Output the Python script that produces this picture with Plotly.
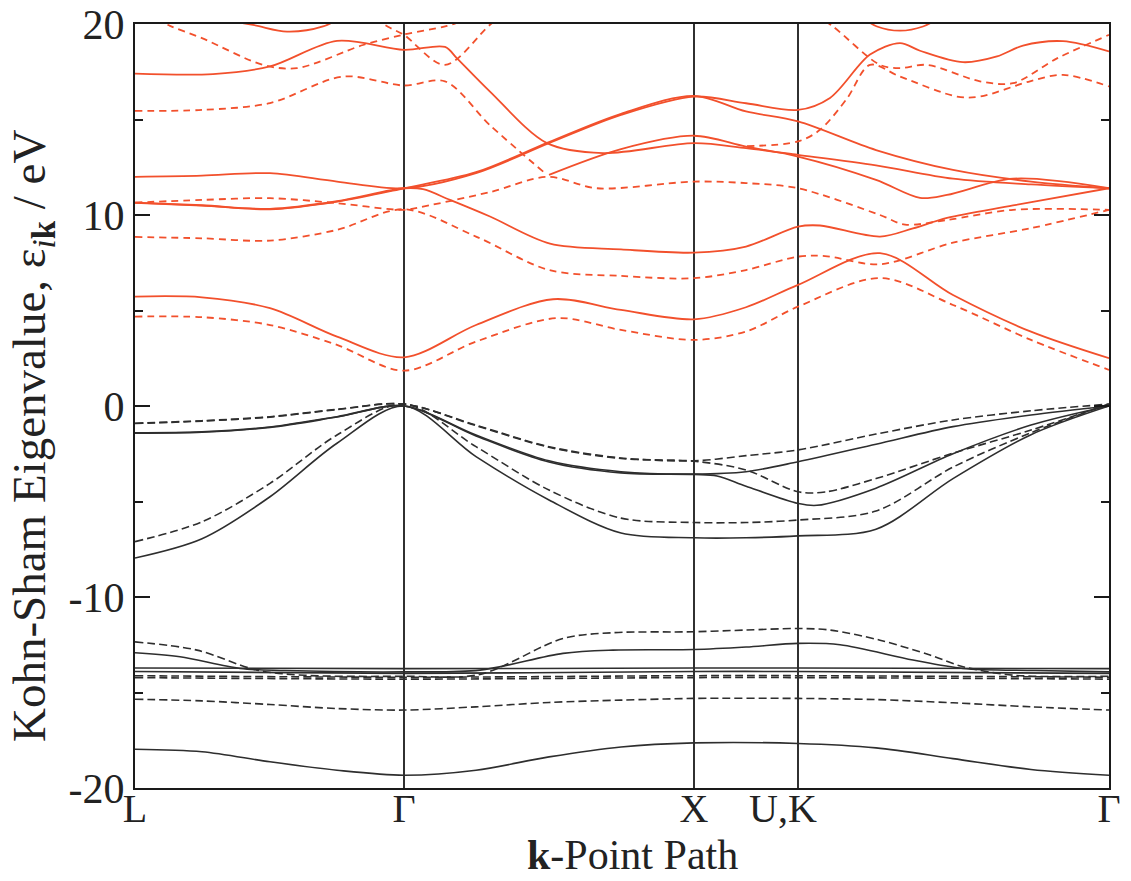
import plotly.graph_objects as go

# High-symmetry points along the path (cumulative path length, arbitrary units)
kpoint_pos = [0, 269, 559, 663, 974]
kpoint_labels = ["L", "Γ", "X", "U,K\u00a0\u00a0\u00a0", "Γ"]

# Energy axis ticks (eV)
e_ticks = [-20, -10, 0, 10, 20]
e_ticklabels = ["-20", "-10", "0", "10", "20"]

# ---- Valence bands, calculation A (solid) : (k, E[eV]) knots ----
va_1 = [(0, -1.4), (67, -1.35), (135, -1.1), (202, -0.56), (269, 0.0), (341, -1.52), (414, -2.87),
        (486, -3.44), (559, -3.56), (611, -3.44), (663, -2.92), (741, -2.0), (818, -1.08), (896, -0.47), (974, 0.0)]
va_2 = [(0, -1.42), (67, -1.37), (135, -1.12), (202, -0.58), (269, 0.0), (341, -1.57), (414, -2.93),
        (486, -3.5), (559, -3.58), (582, -3.66), (611, -4.2), (663, -5.1), (682, -5.2), (741, -4.3),
        (818, -2.5), (896, -1.0), (974, 0.0)]
va_3 = [(0, -7.96), (67, -6.95), (135, -4.75), (202, -1.95), (269, 0.0), (341, -2.65), (414, -4.92),
        (486, -6.65), (559, -6.9), (611, -6.9), (663, -6.8), (741, -6.45), (818, -3.8), (896, -1.5), (974, 0.0)]
va_semi = [(0, -12.92), (45, -13.13), (105, -13.74), (150, -13.85), (269, -13.92), (345, -13.83),
           (428, -12.95), (478, -12.78), (559, -12.75), (611, -12.62), (663, -12.43), (705, -12.5),
           (778, -13.3), (828, -13.74), (900, -13.85), (974, -13.92)]
va_flat_1 = [(0, -13.72), (269, -13.75), (559, -13.72), (663, -13.72), (974, -13.75)]
va_flat_2 = [(0, -13.9), (269, -14.0), (559, -13.9), (663, -13.9), (974, -14.0)]
va_low = [(0, -17.97), (67, -18.1), (135, -18.63), (202, -19.07), (269, -19.33), (341, -19.07),
          (414, -18.37), (486, -17.85), (559, -17.64), (663, -17.67), (741, -17.9), (818, -18.46),
          (896, -19.03), (974, -19.33)]

# ---- Valence bands, calculation B (dashed) ----
vb_1 = [(0, -0.9), (67, -0.77), (135, -0.56), (202, -0.17), (269, 0.1), (341, -1.0), (414, -2.13),
        (486, -2.72), (559, -2.87), (611, -2.6), (663, -2.3), (741, -1.47), (818, -0.73), (896, -0.25), (974, 0.1)]
vb_2 = [(0, -0.92), (67, -0.79), (135, -0.58), (202, -0.19), (269, 0.1), (341, -1.03), (414, -2.16),
        (486, -2.75), (559, -2.89), (611, -3.35), (663, -4.49), (690, -4.5), (741, -3.8), (818, -2.47),
        (896, -1.26), (974, 0.1)]
vb_3 = [(0, -7.1), (67, -6.06), (135, -4.05), (202, -1.52), (269, 0.1), (341, -2.13), (414, -4.4),
        (486, -5.87), (559, -6.1), (611, -6.1), (663, -5.97), (741, -5.5), (818, -3.2), (896, -1.4), (974, 0.1)]
vb_semi = [(0, -12.35), (62, -12.78), (122, -13.83), (170, -14.1), (269, -14.15), (345, -14.05),
           (428, -12.17), (478, -11.87), (559, -11.82), (611, -11.73), (663, -11.65), (695, -11.73),
           (745, -12.26), (795, -13.04), (828, -13.65), (880, -14.1), (974, -14.15)]
vb_flat_1 = [(0, -14.12), (269, -14.2), (559, -14.12), (663, -14.12), (974, -14.2)]
vb_flat_2 = [(0, -14.22), (269, -14.3), (559, -14.22), (663, -14.22), (974, -14.3)]
vb_low = [(0, -15.35), (67, -15.44), (135, -15.63), (202, -15.84), (269, -15.92), (341, -15.75),
          (414, -15.52), (486, -15.4), (559, -15.31), (663, -15.31), (741, -15.37), (818, -15.54),
          (896, -15.75), (974, -15.92)]

# ---- Conduction bands, calculation A (solid) ----
ca_1 = [(0, 5.73), (67, 5.69), (135, 5.12), (202, 3.63), (269, 2.55), (341, 4.24), (418, 5.59),
        (486, 5.03), (559, 4.54), (611, 5.17), (663, 6.34), (745, 8.0), (818, 5.81), (896, 3.89), (974, 2.5)]
ca_2 = [(0, 12.0), (67, 12.06), (135, 12.19), (202, 11.75), (269, 11.4), (341, 12.19), (414, 13.76),
        (486, 15.24), (559, 16.2), (611, 15.85), (663, 15.5), (695, 16.13), (735, 18.4), (765, 19.0),
        (785, 18.6), (828, 18.0), (862, 18.3), (888, 18.87), (928, 19.1), (974, 18.56)]
ca_3 = [(0, 10.63), (67, 10.49), (135, 10.3), (202, 10.7), (269, 11.4), (341, 12.24), (414, 13.82),
        (486, 15.3), (559, 16.24), (611, 15.42), (663, 14.9), (741, 13.4), (818, 12.36), (896, 11.75), (974, 11.4)]
ca_4 = [(0, 10.65), (67, 10.51), (135, 10.32), (202, 10.72), (269, 11.4), (288, 11.35), (315, 10.79),
        (355, 9.92), (415, 8.5), (486, 8.2), (559, 8.03), (611, 8.35), (663, 9.39), (685, 9.45),
        (745, 8.87), (778, 9.3), (812, 9.85), (878, 10.5), (974, 11.4)]
ca_5 = [(0, 17.4), (78, 17.38), (135, 17.78), (202, 19.12), (269, 18.65), (310, 18.8), (322, 18.2),
        (355, 16.46), (412, 13.76), (468, 13.24), (559, 13.76), (611, 13.5), (663, 13.15), (741, 12.6),
        (818, 11.9), (896, 11.6), (974, 11.4)]
ca_6 = [(414, 12.1), (486, 13.45), (559, 14.15), (611, 13.58), (663, 13.06), (741, 11.84), (785, 10.9),
        (812, 11.05), (878, 11.9), (974, 11.4)]
ca_7 = [(0, 21.0), (67, 20.4), (118, 19.95), (152, 19.6), (188, 19.87), (215, 20.6)]
ca_8 = [(720, 20.6), (742, 19.87), (765, 19.65), (788, 19.87), (810, 20.5)]

# ---- Conduction bands, calculation B (dashed) ----
cb_1 = [(0, 4.68), (67, 4.65), (135, 4.24), (202, 3.2), (269, 1.85), (341, 3.37), (422, 4.6),
        (486, 3.98), (559, 3.46), (611, 3.9), (663, 5.2), (745, 6.7), (818, 5.29), (896, 3.46), (974, 1.89)]
cb_2 = [(0, 10.65), (67, 10.79), (135, 10.88), (202, 10.62), (269, 10.27), (288, 10.44), (355, 11.2),
        (413, 12.0), (462, 11.4), (559, 11.75), (611, 11.67), (663, 11.4), (745, 10.0), (770, 9.5),
        (812, 9.74), (878, 10.27), (974, 10.27)]
cb_3 = [(0, 8.85), (67, 8.78), (135, 8.66), (202, 9.22), (269, 10.3), (341, 8.87), (414, 7.12),
        (486, 6.81), (559, 6.69), (611, 7.12), (663, 7.82), (690, 7.85), (745, 7.42), (818, 8.55),
        (896, 9.31), (974, 10.27)]
cb_4a = [(0, 15.45), (67, 15.5), (135, 15.86), (208, 17.25), (269, 16.78), (310, 17.0), (355, 14.7),
         (412, 12.1)]
cb_4b = [(612, 13.6), (663, 13.85), (685, 14.46), (712, 16.1), (735, 17.86), (765, 17.25), (822, 16.2),
         (845, 16.2), (895, 17.0), (928, 17.34), (974, 16.73)]
cb_5 = [(0, 20.8), (35, 19.9), (67, 19.26), (128, 17.86), (162, 17.69), (228, 18.9), (269, 19.45),
        (312, 19.9), (340, 20.4)]
cb_6 = [(230, 20.6), (255, 19.8), (269, 19.43), (310, 17.86), (355, 19.96), (380, 21.0)]
cb_7 = [(680, 20.5), (698, 19.87), (745, 17.86), (765, 17.69), (792, 17.86), (845, 17.0), (878, 16.9),
        (922, 18.2), (974, 19.43)]

BLACK = "#2e2e2e"
RED = "#f2502c"

groups = [
    ([va_1, va_2, va_3, va_semi, va_flat_1, va_flat_2, va_low], BLACK, "solid", 1.6),
    ([vb_1, vb_2, vb_3, vb_semi, vb_flat_1, vb_flat_2, vb_low], BLACK, "8px,4px", 1.6),
    ([ca_1, ca_2, ca_3, ca_4, ca_5, ca_6, ca_7, ca_8], RED, "solid", 1.8),
    ([cb_1, cb_2, cb_3, cb_4a, cb_4b, cb_5, cb_6, cb_7], RED, "7px,5px", 1.8),
]

fig = go.Figure()
for bands, color, dash, width in groups:
    for band in bands:
        fig.add_trace(go.Scatter(
            x=[p[0] for p in band], y=[p[1] for p in band], mode="lines",
            line=dict(color=color, width=width, dash=dash, shape="spline", smoothing=0.9),
            hoverinfo="skip", showlegend=False))

# vertical guides at the interior high-symmetry points
for xp in kpoint_pos[1:-1]:
    fig.add_shape(type="line", xref="x", yref="paper", x0=xp, x1=xp, y0=0, y1=1,
                  line=dict(color="#1a1a1a", width=1.8), layer="below")

serif = "Liberation Serif, Times New Roman, serif"
fig.update_layout(
    width=1131, height=881,
    margin=dict(l=135, r=22, t=24, b=93),
    paper_bgcolor="white", plot_bgcolor="white",
    font=dict(family=serif, color="#222"),
    xaxis=dict(range=[kpoint_pos[0], kpoint_pos[-1]], tickvals=kpoint_pos, ticktext=kpoint_labels,
               ticks="", showgrid=False, zeroline=False, showline=True, mirror=True, automargin=False,
               ticklabelstandoff=-16,
               linecolor="#1a1a1a", linewidth=2, tickfont=dict(size=40, family=serif, color="#222")),
    yaxis=dict(range=[-20, 20], tickvals=e_ticks, ticktext=e_ticklabels, automargin=False,
               ticks="inside", ticklen=15, tickwidth=1.5, tickcolor="#1a1a1a",
               minor=dict(dtick=5, tick0=0, ticks="inside", ticklen=8, tickwidth=1.5, tickcolor="#1a1a1a"),
               showgrid=False, zeroline=False, showline=True, mirror="ticks",
               linecolor="#1a1a1a", linewidth=2, tickfont=dict(size=42, family=serif, color="#222")),
    annotations=[
        dict(text="<b>k</b>-Point Path", xref="paper", yref="paper", x=0.5, y=0, xshift=10, yshift=-67,
             xanchor="center", yanchor="middle", showarrow=False, font=dict(size=42, family=serif, color="#222")),
        dict(text="Kohn-Sham Eigenvalue, ε<sub><i>i</i><b>k</b></sub> / eV", xref="paper", yref="paper",
             x=0, xshift=-103, y=0.4607, textangle=-90, xanchor="center", yanchor="middle", showarrow=False,
             font=dict(size=47, family=serif, color="#222")),
    ],
)

fig.write_html("out.html")
